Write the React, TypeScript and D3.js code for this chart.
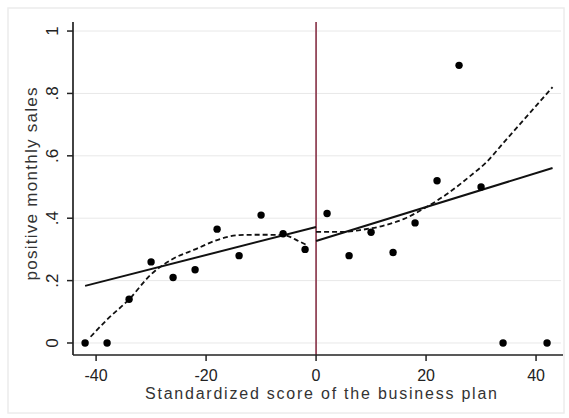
import React from "react";
import * as d3 from "d3";

// Bin means of the outcome by standardized score
const binScore = [-42, -38, -34, -30, -26, -22, -18, -14, -10, -6, -2, 2, 6, 10, 14, 18, 22, 26, 30, 34, 42];
const binShare = [0, 0, 0.14, 0.26, 0.21, 0.235, 0.365, 0.28, 0.41, 0.35, 0.30, 0.415, 0.28, 0.355, 0.29, 0.385, 0.52, 0.89, 0.50, 0, 0];

// Linear fits on each side of the cutoff
const linLeftX = [-42, 0];
const linLeftY = [0.183, 0.372];
const linRightX = [0, 43];
const linRightY = [0.327, 0.561];

// Local (lowess) fits on each side of the cutoff
const lowLeftX = [-41, -38, -34, -30, -26, -22, -18, -14, -10, -6, -3, -1.5];
const lowLeftY = [0.02, 0.075, 0.14, 0.22, 0.27, 0.3, 0.33, 0.346, 0.347, 0.346, 0.325, 0.312];
const lowRightX = [0, 5, 8, 12, 16, 20, 24, 28, 31, 34, 37, 40, 43];
const lowRightY = [0.356, 0.356, 0.362, 0.375, 0.398, 0.435, 0.48, 0.535, 0.58, 0.64, 0.7, 0.76, 0.82];

const xTicks = [-40, -20, 0, 20, 40];
const yTicks = [0, 0.2, 0.4, 0.6, 0.8, 1];
const yTickLabels = ["0", ".2", ".4", ".6", ".8", "1"];
const cutoff = 0;

const W = 569;
const H = 418;
const FONT = "'Liberation Sans', Arial, sans-serif";

export default function App() {
  const x = d3.scaleLinear().domain([-44.2, 44.9]).range([73, 563]);
  const y = d3.scaleLinear().domain([-0.0385, 1.029]).range([355, 22]);

  const pts = (xs: number[], ys: number[]) => xs.map((v, i) => [v, ys[i]] as [number, number]);
  const line = d3
    .line<[number, number]>()
    .x((d) => x(d[0]))
    .y((d) => y(d[1]));
  const smooth = d3
    .line<[number, number]>()
    .x((d) => x(d[0]))
    .y((d) => y(d[1]))
    .curve(d3.curveMonotoneX);

  const [xl, xr] = x.range();
  const [yb, yt] = y.range();

  return (
    <svg
      width={W}
      height={H}
      style={{ position: "absolute", left: 0, top: 0, background: "#fff" }}
      fontFamily={FONT}
    >
      <rect x={8} y={8} width={556} height={405} fill="#fff" stroke="#ececec" strokeWidth={1.5} />

      {/* horizontal grid */}
      {yTicks.map((t) => (
        <line key={"g" + t} x1={xl} x2={561} y1={y(t)} y2={y(t)} stroke="#e8e8e8" strokeWidth={1} />
      ))}

      {/* cutoff */}
      <line x1={x(cutoff)} x2={x(cutoff)} y1={yt} y2={yb} stroke="#8c3b4f" strokeWidth={1.7} />

      {/* fits */}
      <path d={line(pts(linLeftX, linLeftY)) || ""} fill="none" stroke="#111" strokeWidth={2} />
      <path d={line(pts(linRightX, linRightY)) || ""} fill="none" stroke="#111" strokeWidth={2} />
      <path
        d={smooth(pts(lowLeftX, lowLeftY)) || ""}
        fill="none"
        stroke="#111"
        strokeWidth={1.8}
        strokeDasharray="5 3"
      />
      <path
        d={smooth(pts(lowRightX, lowRightY)) || ""}
        fill="none"
        stroke="#111"
        strokeWidth={1.8}
        strokeDasharray="5 3"
      />

      {/* bin means */}
      {binScore.map((s, i) => (
        <circle key={"p" + i} cx={x(s)} cy={y(binShare[i])} r={3.7} fill="#000" />
      ))}

      {/* y axis */}
      <line x1={xl} x2={xl} y1={yt} y2={yb} stroke="#222" strokeWidth={1.7} />
      {yTicks.map((t, i) => (
        <g key={"yt" + t}>
          <line x1={xl - 6} x2={xl} y1={y(t)} y2={y(t)} stroke="#222" strokeWidth={1.5} />
          <text
            transform={`translate(58,${y(t)}) rotate(-90)`}
            textAnchor="middle"
            fontSize={17}
            fill="#222"
          >
            {yTickLabels[i]}
          </text>
        </g>
      ))}
      <text
        transform={`translate(37,184) rotate(-90)`}
        textAnchor="middle"
        fontSize={17}
        fill="#333"
        textLength={193}
        lengthAdjust="spacing"
      >
        positive monthly sales
      </text>

      {/* x axis */}
      <line x1={xl} x2={xr} y1={yb} y2={yb} stroke="#222" strokeWidth={1.7} />
      {xTicks.map((t) => (
        <g key={"xt" + t}>
          <line x1={x(t)} x2={x(t)} y1={yb} y2={yb + 6} stroke="#222" strokeWidth={1.5} />
          <text x={x(t)} y={381} textAnchor="middle" fontSize={16} fill="#222">
            {t}
          </text>
        </g>
      ))}
      <text
        x={321}
        y={399}
        textAnchor="middle"
        fontSize={16}
        fill="#333"
        textLength={352}
        lengthAdjust="spacing"
      >
        Standardized score of the business plan
      </text>
    </svg>
  );
}
